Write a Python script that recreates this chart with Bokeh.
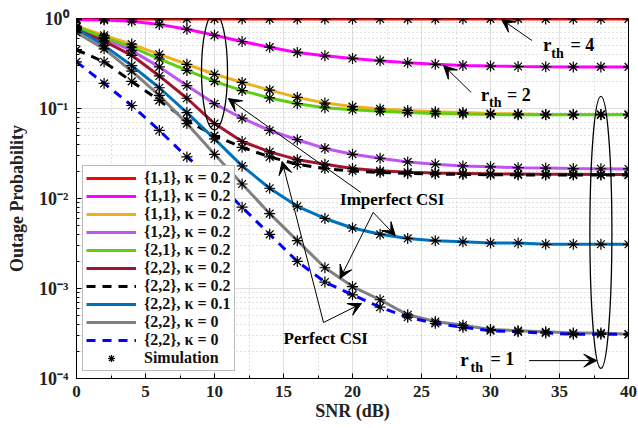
from bokeh.plotting import figure
from bokeh.models import (FixedTicker, Legend, LegendItem, Arrow,
                          VeeHead, CustomJSTickFormatter)
from bokeh.core.properties import value
from bokeh.embed import file_html
from bokeh.resources import INLINE

# ---------------- data ----------------
snr = [0, 2, 4, 6, 8, 10, 12, 14, 16, 18, 20, 22, 24, 26, 28, 30, 32, 34, 36, 38, 40]

red_11 = [0.99, 0.99, 0.99, 0.99, 0.99, 0.99, 0.99, 0.99, 0.99, 0.99, 0.99,
          0.99, 0.99, 0.99, 0.99, 0.99, 0.99, 0.99, 0.99, 0.99, 0.99]
mag_11 = [0.97, 0.96, 0.93, 0.86, 0.76, 0.65, 0.555, 0.48, 0.42, 0.385, 0.36,
          0.34, 0.322, 0.31, 0.301, 0.296, 0.293, 0.291, 0.29, 0.29, 0.29]
org_11 = [0.82, 0.65, 0.52, 0.40, 0.31, 0.24, 0.195, 0.16, 0.133, 0.115, 0.105,
          0.099, 0.095, 0.092, 0.090, 0.088, 0.087, 0.086, 0.086, 0.086, 0.086]
pur_12 = [0.80, 0.60, 0.44, 0.29, 0.18, 0.113, 0.078, 0.057, 0.045, 0.036, 0.031,
          0.028, 0.0255, 0.024, 0.023, 0.0225, 0.022, 0.0218, 0.0215, 0.0214, 0.0213]
grn_21 = [0.80, 0.62, 0.48, 0.355, 0.265, 0.20, 0.158, 0.131, 0.113, 0.102, 0.097,
          0.093, 0.090, 0.088, 0.087, 0.086, 0.085, 0.085, 0.085, 0.085, 0.085]
drd_22 = [0.75, 0.56, 0.39, 0.23, 0.13, 0.068, 0.043, 0.033, 0.027, 0.024, 0.0215,
          0.0203, 0.0196, 0.0192, 0.019, 0.0188, 0.0187, 0.0186, 0.0186, 0.0185, 0.0185]
blk_22 = [0.45, 0.33, 0.20, 0.123, 0.074, 0.050, 0.037, 0.029, 0.024, 0.0215, 0.0202,
          0.0195, 0.019, 0.0187, 0.0185, 0.0184, 0.0183, 0.0183, 0.0182, 0.0182, 0.0182]
stl_22 = [0.77, 0.50, 0.30, 0.17, 0.090, 0.046, 0.023, 0.013, 0.0082, 0.0060, 0.0047,
          0.0040, 0.0036, 0.0034, 0.0033, 0.0032, 0.0032, 0.0031, 0.0031, 0.0031, 0.0031]
gry_22 = [0.70, 0.46, 0.26, 0.14, 0.068, 0.031, 0.0145, 0.0068, 0.0034, 0.0017, 0.00105,
          0.00075, 0.00051, 0.00043, 0.00039, 0.00035, 0.00034, 0.00033, 0.00032, 0.00032, 0.00031]
blu_22 = [0.33, 0.19, 0.108, 0.057, 0.029, 0.016, 0.0080, 0.0040, 0.0020, 0.00118, 0.00085,
          0.00062, 0.00048, 0.00041, 0.00037, 0.00034, 0.00033, 0.00032, 0.00031, 0.00031, 0.00031]

labels = ["{1,1}, κ = 0.2", "{1,1}, κ = 0.2", "{1,1}, κ = 0.2", "{1,2}, κ = 0.2",
          "{2,1}, κ = 0.2", "{2,2}, κ = 0.2", "{2,2}, κ = 0.2", "{2,2}, κ = 0.1",
          "{2,2}, κ = 0", "{2,2}, κ = 0"]
series = [red_11, mag_11, org_11, pur_12, grn_21, drd_22, blk_22, stl_22, gry_22, blu_22]
colors = ["#ff0000", "#ff00ff", "#edb120", "#bf55f2", "#62cc12", "#a2142f",
          "#000000", "#0072bd", "#808080", "#0000ff"]
dashes = ["solid", "solid", "solid", "solid", "solid", "solid",
          "9 7", "solid", "solid", "9 7"]

y_tick_vals = [1e-4, 1e-3, 1e-2, 1e-1, 1]
x_tick_vals = [0, 5, 10, 15, 20, 25, 30, 35, 40]

# annotations (data coordinates)
ell_x = [10, 38]
ell_y = [0.258, 0.0042]
ell_w = [26, 22]
ell_h = [117, 272]

# arrows: (x_start, y_start, x_end, y_end)
arrows = [
    (33.0, 0.57, 30.8, 0.975),       # r_th = 4
    (28.6, 0.151, 26.6, 0.30),       # r_th = 2
    (32.8, 1.58e-4, 37.7, 1.58e-4),  # r_th = 1
    (20.6, 0.0117, 11.0, 0.129),     # Imperfect -> ellipse
    (21.5, 0.0070, 23.1, 0.00388),   # Imperfect -> kappa 0.1
    (21.5, 0.0070, 19.1, 0.00129),   # Imperfect -> gray
    (17.9, 4.19e-4, 14.9, 0.0258),   # Perfect -> black dashed
    (17.9, 4.19e-4, 20.65, 6.8e-4),  # Perfect -> blue dashed
]

rth_x = [33.8, 29.3, 27.8]
rth_y = [0.514, 0.143, 1.63e-4]
rth_sub_x = [34.4, 29.9, 28.55]
rth_sub_y = [0.409, 0.117, 1.33e-4]
rth_eq_x = [35.8, 31.2, 30.0]
rth_eq_text = ["= 4", "= 2", "= 1"]

csi_x = [19.1, 15.0]
csi_y = [0.00975, 2.78e-4]
csi_text = ["Imperfect CSI", "Perfect CSI"]

FONT = "Liberation Serif"

# ---------------- figure ----------------
p = figure(width=638, height=428, y_axis_type="log", x_range=(0, 40), y_range=(1e-4, 1),
           output_backend="svg", toolbar_location=None,
           min_border_left=76, min_border_right=10, min_border_top=18, min_border_bottom=50)
p.background_fill_color = "white"
p.border_fill_color = "white"
p.outline_line_color = "black"
p.outline_line_width = 1

y_minor = [k * 10.0 ** e for e in range(-4, 0) for k in range(2, 10)]
x_minor = [2.5, 7.5, 12.5, 17.5, 22.5, 27.5, 32.5, 37.5]
yticker = FixedTicker(ticks=y_tick_vals, minor_ticks=y_minor)
xticker = FixedTicker(ticks=x_tick_vals, minor_ticks=x_minor)

p.yaxis.ticker = yticker
p.xaxis.ticker = xticker
p.yaxis.formatter = CustomJSTickFormatter(code="""
const e = Math.round(Math.log10(tick));
const sup = {'-':'\u207b','0':'\u2070','1':'\u00b9','2':'\u00b2','3':'\u00b3','4':'\u2074'};
return '10' + String(e).split('').map(c => sup[c]).join('');
""")

for ax in (p.xaxis[0], p.yaxis[0]):
    ax.major_tick_in = 5
    ax.major_tick_out = 0
    ax.minor_tick_in = 3
    ax.minor_tick_out = 0
    ax.axis_line_color = "black"
    ax.major_tick_line_color = "black"
    ax.minor_tick_line_color = "black"
    ax.major_label_text_font = FONT
    ax.major_label_text_font_style = "bold"
    ax.major_label_text_color = "#222222"
    ax.axis_label_text_font = FONT
    ax.axis_label_text_font_style = "bold"
    ax.axis_label_text_font_size = "18px"
    ax.axis_label_text_color = "#222222"

p.xaxis.major_label_text_font_size = "17px"
p.yaxis.major_label_text_font_size = "18px"
p.xaxis.axis_label = "SNR (dB)"
p.yaxis.axis_label = "Outage Probability"
p.xaxis.major_label_standoff = 7
p.xaxis.axis_label_standoff = 1
p.yaxis.major_label_standoff = 8
p.yaxis.axis_label_standoff = 9

# grids
for g in (p.xgrid[0], p.ygrid[0]):
    g.grid_line_color = "#dedede"
    g.grid_line_width = 1
    g.minor_grid_line_color = "#b8b8b8"
    g.minor_grid_line_dash = "1 3"
    g.minor_grid_line_alpha = 0.8
p.xgrid.ticker = xticker
p.ygrid.ticker = yticker

# curves
items = []
for lab, ys, col, dash in zip(labels, series, colors, dashes):
    r = p.line(snr, ys, line_color=col, line_width=3, line_dash=dash)
    items.append(LegendItem(label=lab, renderers=[r]))

# simulation markers
sim_x = []
sim_y = []
for ys in series:
    sim_x.extend(snr)
    sim_y.extend(ys)
sim = p.scatter(sim_x, sim_y, marker="asterisk", size=11, line_color="black", line_width=1.2)
items.append(LegendItem(label="Simulation", renderers=[sim]))

# ellipses
p.ellipse(x=ell_x, y=ell_y, width=ell_w, height=ell_h, width_units="screen",
          height_units="screen", fill_alpha=0, line_color="black", line_width=1.3)

# arrows
for xs, ys, xe, ye in arrows:
    p.add_layout(Arrow(x_start=xs, y_start=ys, x_end=xe, y_end=ye, line_width=1,
                       line_color="black",
                       end=VeeHead(size=13, fill_color="black", line_color="black")))

# texts
p.text(x=rth_x, y=rth_y, text=["r", "r", "r"], text_font=value(FONT), text_font_style="bold",
       text_font_size="19px", text_baseline="middle", text_align="left", text_color="black")
p.text(x=rth_sub_x, y=rth_sub_y, text=["th", "th", "th"], text_font=value(FONT),
       text_font_style="bold", text_font_size="14px", text_baseline="middle",
       text_align="left", text_color="black")
p.text(x=rth_eq_x, y=rth_y, text=rth_eq_text, text_font=value(FONT), text_font_style="bold",
       text_font_size="18px", text_baseline="middle", text_align="left", text_color="black")
p.text(x=csi_x, y=csi_y, text=csi_text, text_font=value(FONT), text_font_style="bold",
       text_font_size="17px", text_baseline="middle", text_align="left", text_color="black")

legend = Legend(items=items, location=(6, 7), label_text_font=FONT,
                label_text_font_style="bold", label_text_font_size="16px",
                label_text_color="#111111",
                glyph_width=50, glyph_height=18, label_height=18, spacing=0, padding=3,
                margin=0, label_standoff=8, border_line_color="#777777", border_line_width=1,
                background_fill_color="white", background_fill_alpha=1)
p.add_layout(legend)

open("out.html", "w", encoding="utf-8").write(file_html(p, INLINE))
